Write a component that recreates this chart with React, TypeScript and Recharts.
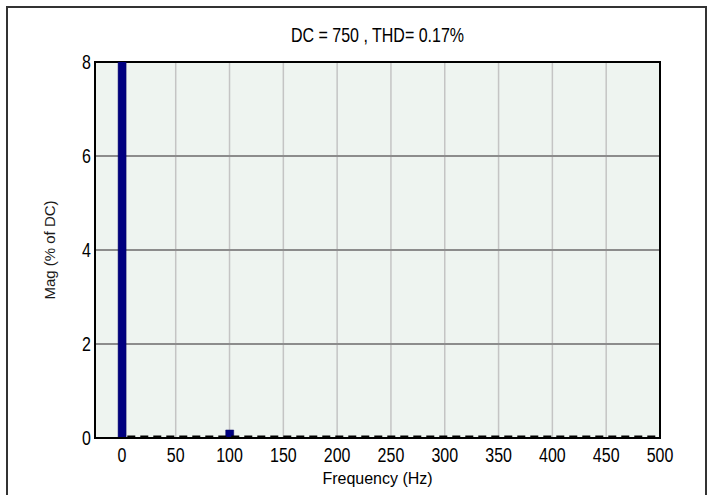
import {
  Bar,
  BarChart,
  CartesianGrid,
  Label,
  ReferenceArea,
  ReferenceLine,
  XAxis,
  YAxis,
} from "recharts";

// harmonic spectrum, magnitude in % of DC (the DC bin runs off the top of the axis)
const frequencies = [0, 100];
const magnitudes = [100, 0.17];
const xTicks = [0, 50, 100, 150, 200, 250, 300, 350, 400, 450, 500];
const yTicks = [0, 2, 4, 6, 8];
const titleText = "DC = 750 , THD= 0.17%";

const data = frequencies.map((f, i) => ({ freq: f, mag: magnitudes[i] }));

const narrowFont = "'Liberation Sans Narrow', 'Arial Narrow', sans-serif";

// tall narrow digits, like the MATLAB export
const XTick = ({ x, y, payload }: any) => (
  <g transform={`translate(${x},${y}) scale(1,1.3)`}>
    <text
      x={0}
      y={0}
      dy={14}
      textAnchor="middle"
      fontFamily={narrowFont}
      fontSize={16}
      fill="#000"
    >
      {payload.value}
    </text>
  </g>
);

const YTick = ({ x, y, payload }: any) => (
  <g transform={`translate(${x + 2},${y}) scale(1,1.3)`}>
    <text
      x={0}
      y={0}
      dy={5}
      textAnchor="end"
      fontFamily={narrowFont}
      fontSize={16}
      fill="#000"
    >
      {payload.value}
    </text>
  </g>
);

export default function App() {
  return (
    <div
      style={{
        position: "absolute",
        left: 0,
        top: 0,
        width: 710,
        height: 495,
        background: "#fff",
        overflow: "hidden",
      }}
    >
      {/* figure frame */}
      <div
        style={{
          position: "absolute",
          left: 6,
          top: 6,
          width: 697,
          height: 500,
          borderLeft: "2px solid #333",
          borderTop: "2px solid #333",
          borderRight: "2px solid #333",
        }}
      />
      <div
        style={{
          position: "absolute",
          left: 95,
          width: 565,
          top: 27,
          textAlign: "center",
          fontFamily: narrowFont,
          fontSize: 16,
          transform: "scaleY(1.3)",
          color: "#000",
        }}
      >
        {titleText}
      </div>
      <BarChart
        width={710}
        height={495}
        data={data}
        margin={{ top: 62, right: 50, bottom: 0, left: 65 }}
        barSize={8}
        style={{ position: "absolute", left: 0, top: 0 }}
      >
        <CartesianGrid
          horizontal={false}
          stroke="#c4c4c4"
          strokeWidth={1.5}
          fill="#eef4f0"
          fillOpacity={1}
        />
        <CartesianGrid vertical={false} stroke="#8c8c8c" strokeWidth={2} />
        <XAxis
          dataKey="freq"
          type="number"
          domain={[-25, 500]}
          ticks={xTicks}
          interval={0}
          allowDataOverflow
          height={57}
          axisLine={{ stroke: "#000", strokeWidth: 2 }}
          tickLine={false}
          tickSize={4}
          tick={<XTick />}
        >
          <Label
            value="Frequency (Hz)"
            position="insideBottom"
            offset={11}
            fontFamily={narrowFont}
            fontSize={16}
            fill="#000"
          />
        </XAxis>
        <YAxis
          type="number"
          domain={[0, 8]}
          ticks={yTicks}
          allowDataOverflow
          width={30}
          axisLine={{ stroke: "#000", strokeWidth: 1.5 }}
          tickLine={false}
          tickSize={4}
          tick={<YTick />}
        >
          <Label
            value="Mag (% of DC)"
            angle={-90}
            position="insideLeft"
            offset={-15}
            textAnchor="middle"
            fontFamily="'Liberation Sans', Arial, sans-serif"
            fontSize={15}
            fill="#1a1a1a"
          />
        </YAxis>
        <ReferenceArea
          x1={-25}
          x2={500}
          y1={0}
          y2={8}
          fill="none"
          stroke="#000"
          strokeWidth={2}
          ifOverflow="visible"
        />
        <ReferenceLine
          segment={[
            { x: 5, y: 0.03 },
            { x: 500, y: 0.03 },
          ]}
          stroke="#000"
          strokeWidth={2}
          strokeDasharray="8 5"
        />
        <Bar
          dataKey="mag"
          fill="#000080"
          stroke="#000060"
          strokeWidth={0.5}
          isAnimationActive={false}
        />
      </BarChart>
    </div>
  );
}
